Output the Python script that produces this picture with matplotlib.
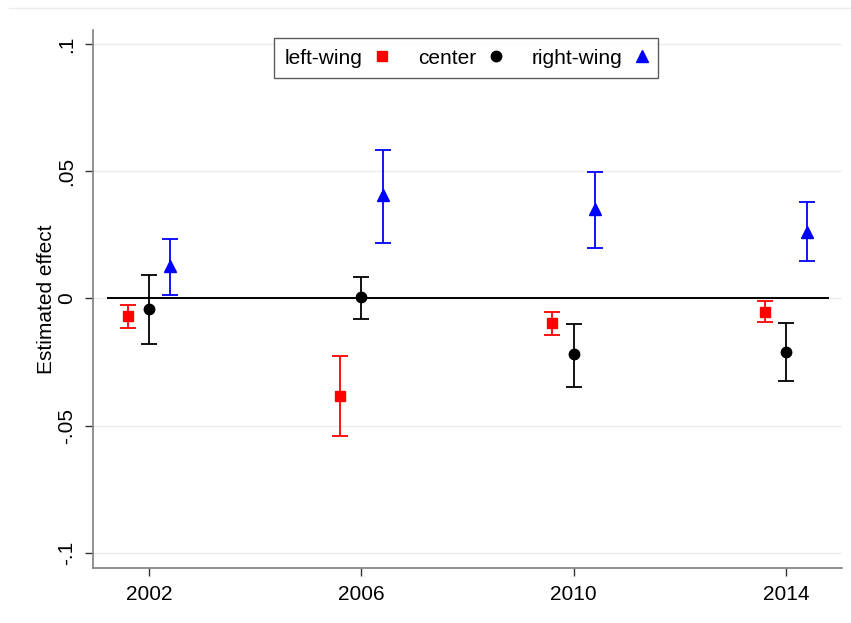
import numpy as np
import matplotlib.pyplot as plt
from matplotlib.lines import Line2D

plt.rcParams['font.family'] = ['Liberation Sans', 'DejaVu Sans']

# Estimates and 95% confidence bounds by election year
years = np.array([2002, 2006, 2010, 2014])

left_est = [-0.0070, -0.0382, -0.0098, -0.0053]
left_lo = [-0.0114, -0.0539, -0.0142, -0.0093]
left_hi = [-0.0024, -0.0224, -0.0055, -0.0008]

center_est = [-0.0043, 0.0004, -0.0220, -0.0212]
center_lo = [-0.0177, -0.0079, -0.0346, -0.0323]
center_hi = [0.0094, 0.0083, -0.0102, -0.0098]

right_est = [0.0126, 0.0406, 0.0350, 0.0262]
right_lo = [0.0012, 0.0220, 0.0197, 0.0146]
right_hi = [0.0232, 0.0583, 0.0496, 0.0378]

yticks = [-0.1, -0.05, 0, 0.05, 0.1]
ytick_labels = ['-.1', '-.05', '0', '.05', '.1']

fig = plt.figure(figsize=(8.51, 6.23), dpi=100)
ax = fig.add_axes([0.1093, 0.0883, 0.8801, 0.8635])

series = [
    ('left-wing', left_est, left_lo, left_hi, -0.4, 'red', 's', 7.5),
    ('center', center_est, center_lo, center_hi, 0.0, 'black', 'o', 7.5),
    ('right-wing', right_est, right_lo, right_hi, 0.4, 'blue', '^', 8),
]

handles = []
for name, est, lo, hi, off, col, mk, ms in series:
    est = np.array(est)
    err = [est - np.array(lo), np.array(hi) - est]
    ax.errorbar(years + off, est, yerr=err, fmt='none', ecolor=col,
                elinewidth=1.3, capsize=6, capthick=1.3, zorder=3)
    ax.plot(years + off, est, linestyle='none', marker=mk, color=col,
            markersize=ms, zorder=4)
    handles.append(Line2D([], [], linestyle='none', marker=mk, color=col,
                          markersize=ms, label=name))

ax.hlines(0, 2001.21, 2014.81, color='black', linewidth=1.4, zorder=2)

ax.set_xlim(2000.95, 2015.05)
ax.set_ylim(-0.1059, 0.1055)
ax.set_xticks(years)
ax.set_xticklabels([str(y) for y in years], fontsize=15)
ax.set_yticks(yticks)
ax.set_yticklabels(ytick_labels, fontsize=15, rotation=90, va='center')
ax.set_ylabel('Estimated effect', fontsize=15)
ax.yaxis.set_label_coords(-0.05, 0.5)

ax.grid(axis='y', color='#e8eced', linewidth=1.0, zorder=0)
ax.set_axisbelow(True)
for s in ['top', 'right']:
    ax.spines[s].set_visible(False)
for s in ['left', 'bottom']:
    ax.spines[s].set_color('#7f7f7f')
    ax.spines[s].set_linewidth(1.2)
ax.tick_params(axis='both', direction='out', length=6, width=1.0,
               color='#333333', pad=6)

leg = ax.legend(handles=handles, loc='upper center', bbox_to_anchor=(0.4985, 0.985),
                ncol=3, markerfirst=False, frameon=True, fancybox=False,
                fontsize=15, handletextpad=0.65, columnspacing=1.4,
                handlelength=0.6, borderpad=0.5, borderaxespad=0)
leg.get_frame().set_edgecolor('#333333')
leg.get_frame().set_linewidth(1.0)

# thin rule across the top of the graph region
fig.add_artist(Line2D([0.011, 1.0], [0.987, 0.987], color='#e8eced',
                      linewidth=1.0, transform=fig.transFigure))

fig.savefig('out.png', dpi=100)
